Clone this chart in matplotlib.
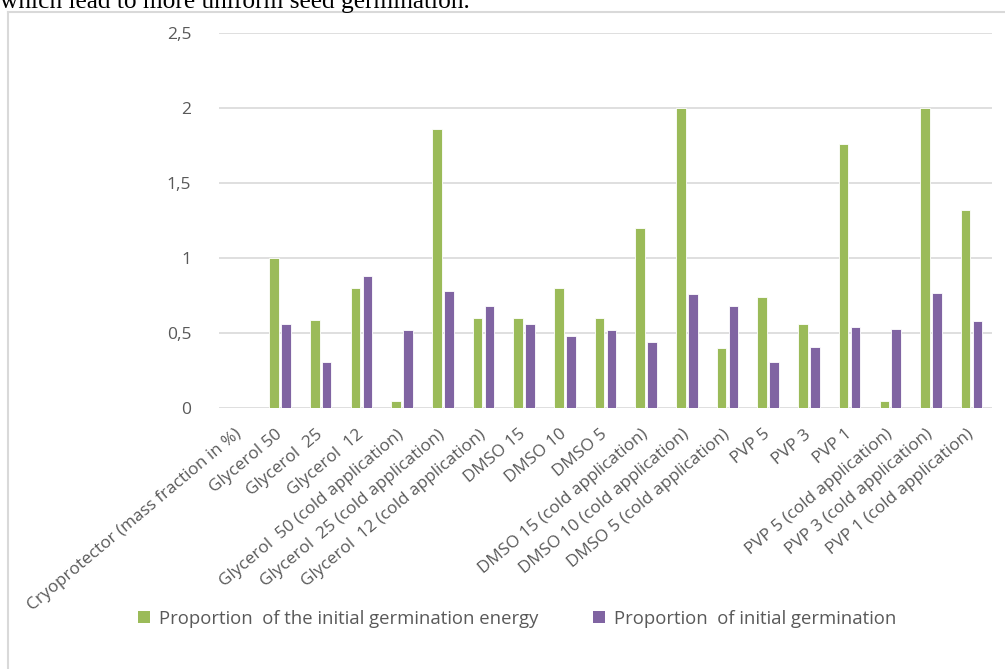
import matplotlib
matplotlib.use("Agg")
import matplotlib.pyplot as plt
import matplotlib.transforms as mtransforms
import numpy as np
from matplotlib.lines import Line2D
from matplotlib.patches import Patch

categories = [
    "Cryoprotector (mass fraction in %)",
    "Glycerol 50", "Glycerol  25", "Glycerol  12",
    "Glycerol  50 (cold application)", "Glycerol  25 (cold application)",
    "Glycerol  12 (cold application)",
    "DMSO 15", "DMSO 10", "DMSO 5",
    "DMSO 15 (cold application)", "DMSO 10 (cold application)",
    "DMSO 5 (cold application)",
    "PVP 5", "PVP 3", "PVP 1",
    "PVP 5 (cold application)", "PVP 3 (cold application)",
    "PVP 1 (cold application)",
]
energy = [np.nan, 1.0, 0.59, 0.80, 0.05, 1.86, 0.60, 0.60, 0.80, 0.60,
          1.20, 2.00, 0.40, 0.74, 0.56, 1.76, 0.05, 2.00, 1.32]
germination = [np.nan, 0.56, 0.31, 0.88, 0.52, 0.78, 0.68, 0.56, 0.48, 0.52,
               0.44, 0.76, 0.68, 0.31, 0.41, 0.54, 0.53, 0.77, 0.58]
series_names = ["Proportion  of the initial germination energy",
                "Proportion  of initial germination"]
yticks = [0, 0.5, 1, 1.5, 2, 2.5]
ytick_labels = ["0", "0,5", "1", "1,5", "2", "2,5"]

GREEN = "#9bbb59"
PURPLE = "#8064a2"
TXT = "#595959"
GRID = "#d9d9d9"
FONT = "Open Sans"

W, H = 1005, 669
fig = plt.figure(figsize=(W / 100, H / 100), dpi=100)
fig.patch.set_facecolor("white")

# page text above chart (cut off in the reference)
fig.text(0.0, 1 - 8 / H, "which lead to more uniform seed germination.",
         family="Liberation Serif", fontsize=18.3, color="black",
         ha="left", va="baseline")

# chart border (left and top)
fig.add_artist(Line2D([8 / W, 8 / W], [0, 1 - 12 / H], transform=fig.transFigure,
                      color=GRID, lw=1.5))
fig.add_artist(Line2D([8 / W, 1], [1 - 12 / H, 1 - 12 / H], transform=fig.transFigure,
                      color=GRID, lw=1.5))

left, right = 219 / W, 992 / W
bottom, top = 1 - 408.3 / H, 1 - 33.3 / H
ax = fig.add_axes([left, bottom, right - left, top - bottom])

x = np.arange(len(categories))
bw = 0.235
off = 0.147
ax.bar(x - off, energy, width=bw, color=GREEN, edgecolor="white", linewidth=0.6,
       label=series_names[0], zorder=3)
ax.bar(x + off, germination, width=bw, color=PURPLE, edgecolor="white", linewidth=0.6,
       label=series_names[1], zorder=3)

ax.set_xlim(-0.5, len(categories) - 0.5)
ax.set_ylim(0, 2.5)
ax.set_yticks(yticks)
ax.set_yticklabels(ytick_labels, family=FONT, fontsize=12.5, color=TXT)
ax.tick_params(axis="y", length=0, pad=20)
ax.yaxis.grid(True, color=GRID, lw=1.2, zorder=0)
ax.set_axisbelow(True)
for s in ["top", "right", "left", "bottom"]:
    ax.spines[s].set_visible(False)

ax.set_xticks(x)
ax.set_xticklabels(categories, rotation=40, ha="right", va="top",
                   family=FONT, fontsize=12.3, color=TXT)
ax.tick_params(axis="x", length=0, pad=13)
shift = mtransforms.ScaledTranslation(5 / 100, 0, fig.dpi_scale_trans)
for lab in ax.get_xticklabels():
    lab.set_transform(lab.get_transform() + shift)

handles = [Patch(facecolor=GREEN, edgecolor="none"),
           Patch(facecolor=PURPLE, edgecolor="none")]
fig.legend(handles, series_names, loc="center", bbox_to_anchor=(517 / W, 1 - 618.5 / H),
           ncol=2, frameon=False, handlelength=0.65, handleheight=0.65,
           handletextpad=0.5, columnspacing=2.95,
           prop={"family": FONT, "size": 13.3}, labelcolor=TXT)

fig.savefig("out.png", dpi=100, facecolor="white")
